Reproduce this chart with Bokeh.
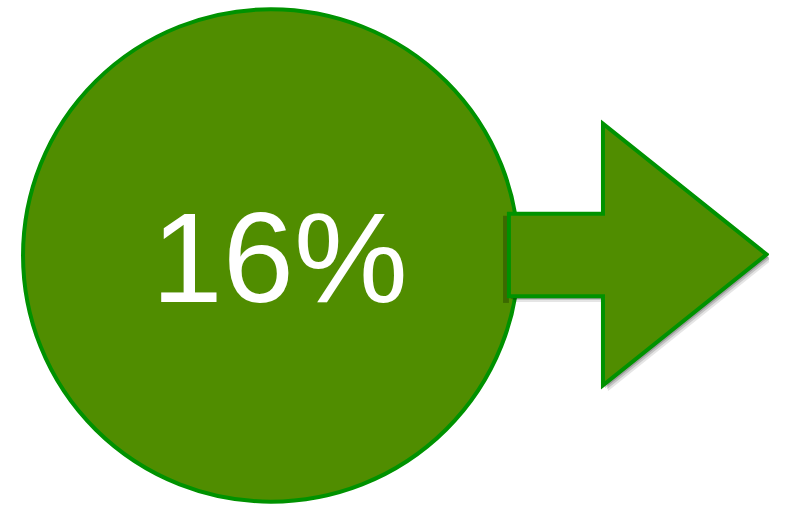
from bokeh.plotting import figure
from bokeh.models import Range1d
from bokeh.embed import file_html
from bokeh.resources import INLINE
from bokeh.core.properties import value

# Data
metric_value = [16]
labels = [f"{v}%" for v in metric_value]

FILL = "#508D00"
EDGE = "#009200"

W, H = 769, 506
p = figure(width=W, height=H, output_backend="svg", toolbar_location=None,
           x_range=Range1d(0, 785), y_range=Range1d(522, 0),
           min_border=0)
p.axis.visible = False
p.grid.visible = False
p.outline_line_color = None
p.background_fill_color = "white"
p.border_fill_color = "white"

# circle
p.ellipse(x=[276], y=[263], width=[506], height=[508],
          fill_color=FILL, line_color=EDGE, line_width=4)

# arrow shape
ax = [519, 615, 615, 782, 615, 615, 519]
ay = [220, 220, 127, 262, 397, 305, 305]

# soft shadow layers
for dx, dy, a in [(5, 6, 0.10), (4, 4, 0.15), (2, 3, 0.20)]:
    p.patch([x + dx for x in ax], [y + dy for y in ay],
            fill_color="black", fill_alpha=a, line_color=None)
p.patch([513, 519, 519, 513], [222, 222, 312, 312],
        fill_color="black", fill_alpha=0.25, line_color=None)

p.patch(ax, ay, fill_color=FILL, line_color=EDGE, line_width=4, line_join="miter")

p.text(x=[285], y=[265], text=labels, text_color="white",
       text_font=value("Liberation Sans"), text_font_size="128px",
       text_align="center", text_baseline="middle")

open("out.html", "w").write(file_html(p, INLINE))
